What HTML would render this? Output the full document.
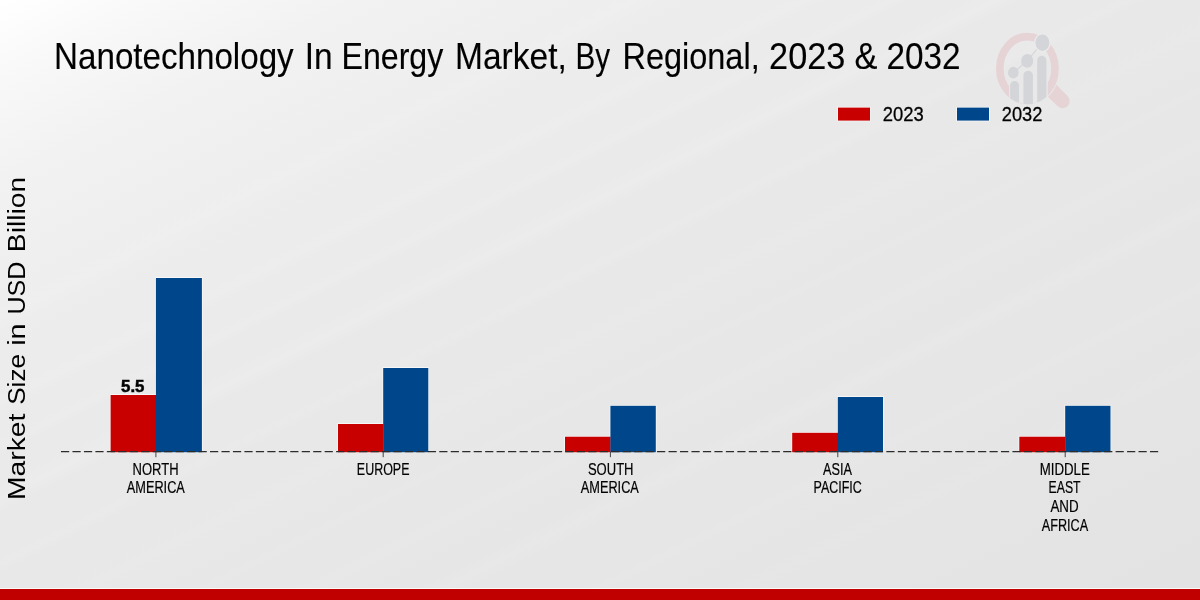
<!DOCTYPE html>
<html><head><meta charset="utf-8"><title>Nanotechnology In Energy Market</title>
<style>
html,body{margin:0;padding:0;width:1200px;height:600px;overflow:hidden;background:#e8e8e8;}
svg{display:block;font-family:"Liberation Sans",sans-serif;}
text{fill:#000;white-space:pre;}
</style></head>
<body>
<svg width="1200" height="600" viewBox="0 0 1200 600">
<defs>
<linearGradient id="bg" x1="0" y1="0" x2="1" y2="1"><stop offset="0" stop-color="#ffffff"/><stop offset="0.025" stop-color="#fdfdfd"/><stop offset="0.07" stop-color="#f8f8f8"/><stop offset="0.15" stop-color="#f2f2f2"/><stop offset="0.253" stop-color="#eeeeee"/><stop offset="0.265" stop-color="#efefef"/><stop offset="0.277" stop-color="#ededed"/><stop offset="0.3" stop-color="#ececec"/><stop offset="0.325" stop-color="#ececec"/><stop offset="0.335" stop-color="#ededed"/><stop offset="0.345" stop-color="#ebebeb"/><stop offset="0.365" stop-color="#ebebeb"/><stop offset="0.372" stop-color="#ececec"/><stop offset="0.379" stop-color="#eaeaea"/><stop offset="0.403" stop-color="#eaeaea"/><stop offset="0.415" stop-color="#ececec"/><stop offset="0.427" stop-color="#e9e9e9"/><stop offset="0.462" stop-color="#e9e9e9"/><stop offset="0.47" stop-color="#eaeaea"/><stop offset="0.478" stop-color="#e8e8e8"/><stop offset="0.5" stop-color="#e8e8e8"/><stop offset="0.513" stop-color="#e8e8e8"/><stop offset="0.525" stop-color="#e9e9e9"/><stop offset="0.537" stop-color="#e8e8e8"/><stop offset="0.568" stop-color="#e7e7e7"/><stop offset="0.575" stop-color="#e8e8e8"/><stop offset="0.582" stop-color="#e7e7e7"/><stop offset="0.61" stop-color="#e7e7e7"/><stop offset="0.62" stop-color="#e8e8e8"/><stop offset="0.63" stop-color="#e7e7e7"/><stop offset="0.663" stop-color="#e6e6e6"/><stop offset="0.675" stop-color="#e8e8e8"/><stop offset="0.687" stop-color="#e6e6e6"/><stop offset="0.732" stop-color="#e6e6e6"/><stop offset="0.74" stop-color="#e7e7e7"/><stop offset="0.748" stop-color="#e6e6e6"/><stop offset="0.79" stop-color="#e5e5e5"/><stop offset="0.8" stop-color="#e6e6e6"/><stop offset="0.81" stop-color="#e5e5e5"/><stop offset="1.0" stop-color="#e3e3e3"/></linearGradient>
</defs>
<rect width="1200" height="600" fill="url(#bg)"/>

<g id="logo">
  <mask id="hm" maskUnits="userSpaceOnUse" x="980" y="20" width="110" height="110">
    <rect x="980" y="20" width="110" height="110" fill="#fff"/>
    <ellipse cx="1027.4" cy="68.5" rx="32.5" ry="36.9" fill="#000"/>
  </mask>
  <ellipse cx="1027.4" cy="68.5" rx="27.6" ry="31.9" fill="none" stroke="#e6d3d6" stroke-width="7.6"/>
  <line x1="1052" y1="90.5" x2="1062.4" y2="101" stroke="#e6d3d6" stroke-width="14.5" stroke-linecap="round" mask="url(#hm)"/>
  <clipPath id="lc"><ellipse cx="1027.4" cy="68.5" rx="31.4" ry="35.7"/></clipPath>
  <g clip-path="url(#lc)">
    <rect x="1009.1" y="76" width="38.6" height="32" fill="#e8e8e8"/>
    <rect x="1010.1" y="80.9" width="8.9" height="30" rx="4.4" fill="#d4d5d9"/>
    <rect x="1023.4" y="70.8" width="9.5" height="40" rx="4.7" fill="#d4d5d9"/>
    <rect x="1037.2" y="55.8" width="9.2" height="55" rx="4.6" fill="#d4d5d9"/>
  </g>
  <polyline points="1013.2,73 1027.3,60.7 1042.4,42.7" fill="none" stroke="#d4d5d9" stroke-width="1.2"/>
  <ellipse cx="1013.3" cy="72.6" rx="5.3" ry="5.9" fill="#d4d5d9"/>
  <ellipse cx="1027.2" cy="60.9" rx="6" ry="6.8" fill="#d4d5d9"/>
  <ellipse cx="1042.4" cy="42.7" rx="7.7" ry="8.85" fill="#d4d5d9" stroke="#ebebeb" stroke-width="1.3"/>
</g>
<g id="legend">
<rect x="838" y="107.6" width="32" height="13" fill="none" stroke="#fbfbfb" stroke-width="1.3"/>
<rect x="957" y="107.6" width="32" height="13" fill="none" stroke="#fbfbfb" stroke-width="1.3"/>
<rect x="838" y="107.6" width="32" height="13" fill="#c80000"/>
<rect x="957" y="107.6" width="32" height="13" fill="#00468b"/>
</g>
<g id="bars">
<path d="M110.6 450.8V395.0H155.9V278.0H201.9V450.8" fill="none" stroke="#fbfbfb" stroke-width="1.3"/>
<path d="M338.0 450.8V424.0H383.2V368.0H428.3V450.8" fill="none" stroke="#fbfbfb" stroke-width="1.3"/>
<path d="M565.0 450.8V436.7H610.4V405.8H655.8V450.8" fill="none" stroke="#fbfbfb" stroke-width="1.3"/>
<path d="M792.2 450.8V432.8H837.8V397.0H883.0V450.8" fill="none" stroke="#fbfbfb" stroke-width="1.3"/>
<path d="M1019.3 450.8V436.7H1065.2V405.8H1110.5V450.8" fill="none" stroke="#fbfbfb" stroke-width="1.3"/>
<rect x="110.6" y="395.0" width="45.5" height="57.2" fill="#c80000"/>
<rect x="155.9" y="278.0" width="46.0" height="174.2" fill="#00468b"/>
<rect x="338.0" y="424.0" width="45.4" height="28.2" fill="#c80000"/>
<rect x="383.2" y="368.0" width="45.1" height="84.2" fill="#00468b"/>
<rect x="565.0" y="436.7" width="45.6" height="15.5" fill="#c80000"/>
<rect x="610.4" y="405.8" width="45.4" height="46.4" fill="#00468b"/>
<rect x="792.2" y="432.8" width="45.8" height="19.4" fill="#c80000"/>
<rect x="837.8" y="397.0" width="45.2" height="55.2" fill="#00468b"/>
<rect x="1019.3" y="436.7" width="46.1" height="15.5" fill="#c80000"/>
<rect x="1065.2" y="405.8" width="45.3" height="46.4" fill="#00468b"/>
</g>
<line x1="61" y1="451.6" x2="1158.4" y2="451.6" stroke="#2c2c2c" stroke-width="1.45" stroke-dasharray="8.2 3.263"/>
<line x1="155.9" y1="451.6" x2="155.9" y2="457.20000000000005" stroke="#333" stroke-width="0.9"/>
<line x1="383.2" y1="451.6" x2="383.2" y2="457.20000000000005" stroke="#333" stroke-width="0.9"/>
<line x1="610.4" y1="451.6" x2="610.4" y2="457.20000000000005" stroke="#333" stroke-width="0.9"/>
<line x1="837.8" y1="451.6" x2="837.8" y2="457.20000000000005" stroke="#333" stroke-width="0.9"/>
<line x1="1065.2" y1="451.6" x2="1065.2" y2="457.20000000000005" stroke="#333" stroke-width="0.9"/>
<g id="texts" opacity="0.999">
<text transform="translate(54.11 68.80) scale(0.8865 1)" font-size="37.4" font-weight="normal" stroke="#000" stroke-width="0.15">Nanotechnology</text>
<text transform="translate(304.69 68.80) scale(0.8942 1)" font-size="37.4" font-weight="normal" stroke="#000" stroke-width="0.15">In</text>
<text transform="translate(341.49 68.80) scale(0.8592 1)" font-size="37.4" font-weight="normal" stroke="#000" stroke-width="0.15">Energy</text>
<text transform="translate(455.08 68.80) scale(0.8960 1)" font-size="37.4" font-weight="normal" stroke="#000" stroke-width="0.15">Market,</text>
<text transform="translate(575.38 68.80) scale(0.7932 1)" font-size="37.4" font-weight="normal" stroke="#000" stroke-width="0.15">By</text>
<text transform="translate(622.46 68.80) scale(0.8687 1)" font-size="37.4" font-weight="normal" stroke="#000" stroke-width="0.15">Regional,</text>
<text transform="translate(769.09 68.80) scale(0.9170 1)" font-size="37.4" font-weight="normal" stroke="#000" stroke-width="0.15">2023</text>
<text transform="translate(854.42 68.80) scale(0.9198 1)" font-size="37.4" font-weight="normal" stroke="#000" stroke-width="0.15">&amp;</text>
<text transform="translate(886.44 68.80) scale(0.8908 1)" font-size="37.4" font-weight="normal" stroke="#000" stroke-width="0.15">2032</text>
<text transform="translate(132.48 474.80) scale(0.7574 1)" font-size="17.2" font-weight="normal" stroke="#000" stroke-width="0.22">NORTH</text>
<text transform="translate(126.80 493.20) scale(0.7419 1)" font-size="17.2" font-weight="normal" stroke="#000" stroke-width="0.22">AMERICA</text>
<text transform="translate(356.83 474.80) scale(0.7255 1)" font-size="17.2" font-weight="normal" stroke="#000" stroke-width="0.22">EUROPE</text>
<text transform="translate(587.89 474.80) scale(0.7587 1)" font-size="17.2" font-weight="normal" stroke="#000" stroke-width="0.22">SOUTH</text>
<text transform="translate(580.80 493.20) scale(0.7419 1)" font-size="17.2" font-weight="normal" stroke="#000" stroke-width="0.22">AMERICA</text>
<text transform="translate(823.00 474.80) scale(0.7383 1)" font-size="17.2" font-weight="normal" stroke="#000" stroke-width="0.22">ASIA</text>
<text transform="translate(813.52 493.20) scale(0.7272 1)" font-size="17.2" font-weight="normal" stroke="#000" stroke-width="0.22">PACIFIC</text>
<text transform="translate(1039.66 474.80) scale(0.7724 1)" font-size="17.2" font-weight="normal" stroke="#000" stroke-width="0.22">MIDDLE</text>
<text transform="translate(1048.54 493.40) scale(0.7139 1)" font-size="17.2" font-weight="normal" stroke="#000" stroke-width="0.22">EAST</text>
<text transform="translate(1050.40 512.00) scale(0.7783 1)" font-size="17.2" font-weight="normal" stroke="#000" stroke-width="0.22">AND</text>
<text transform="translate(1041.75 530.80) scale(0.7363 1)" font-size="17.2" font-weight="normal" stroke="#000" stroke-width="0.22">AFRICA</text>
<text transform="translate(882.74 121.40) scale(0.8863 1)" font-size="20.8" font-weight="normal" stroke="#000" stroke-width="0.3">2023</text>
<text transform="translate(1001.74 121.40) scale(0.8773 1)" font-size="20.8" font-weight="normal" stroke="#000" stroke-width="0.3">2032</text>
<text transform="translate(121.04 391.90) scale(1.0319 1)" font-size="16.3" font-weight="bold" stroke="#000" stroke-width="0.5">5.5</text>
<text transform="translate(25.10 499.90) rotate(-90) scale(1.1467 1)" font-size="24.6" font-weight="normal">Market</text>
<text transform="translate(25.10 404.82) rotate(-90) scale(1.0632 1)" font-size="24.6" font-weight="normal">Size</text>
<text transform="translate(25.10 345.80) rotate(-90) scale(1.1708 1)" font-size="24.6" font-weight="normal">in</text>
<text transform="translate(25.10 314.57) rotate(-90) scale(1.0212 1)" font-size="24.6" font-weight="normal">USD</text>
<text transform="translate(25.10 252.21) rotate(-90) scale(1.1487 1)" font-size="24.6" font-weight="normal">Billion</text>
</g>
<rect x="0" y="588" width="1200" height="1.2" fill="#fafafa"/>
<rect x="0" y="589" width="1200" height="11" fill="#c00000"/>
</svg>
</body></html>
